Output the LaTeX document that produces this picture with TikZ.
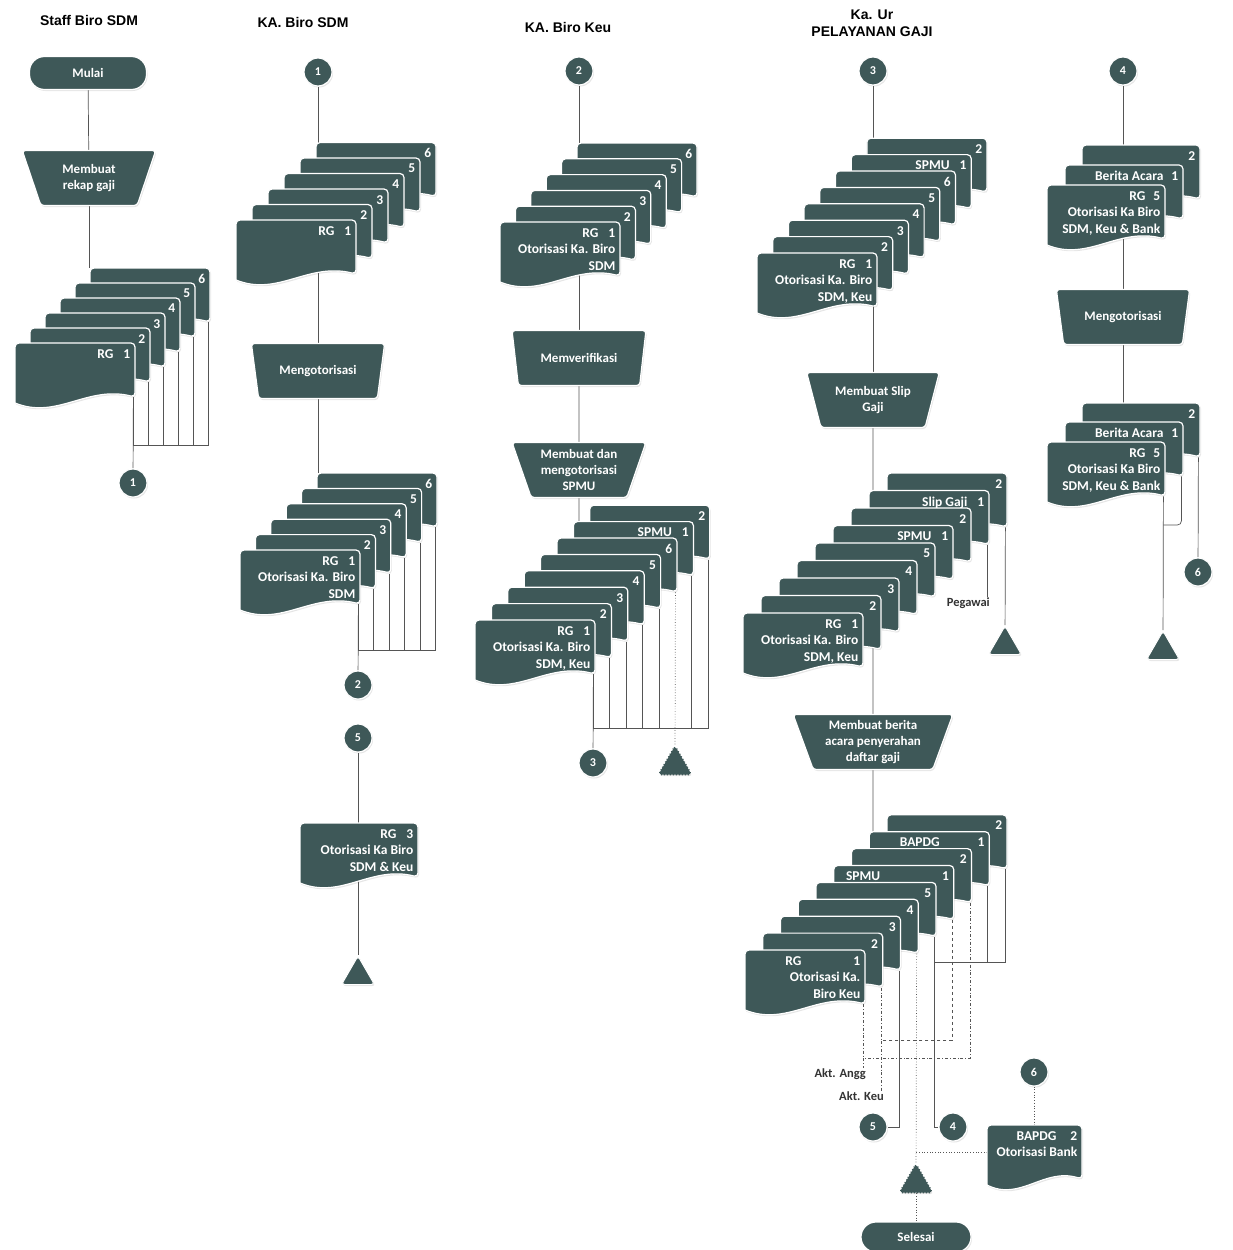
\documentclass[tikz,border=0pt]{standalone}
\usepackage{fontspec}
\setmainfont{Carlito}
\newfontfamily\headfont{Liberation Sans}
\usepackage{tikz}
\usetikzlibrary{shapes.geometric, shadows, backgrounds}
\definecolor{docfill}{RGB}{62,88,88}
\definecolor{flowline}{RGB}{85,85,85}
\tikzset{every node/.append style={font=\bfseries\fontsize{13}{16}\selectfont}}

% sheet with wavy bottom: [width]{name}{left}{top}{text}
\newcommand{\docpage}[5][120]{%
  \path[docshape] (#3,#4+60) [rounded corners=4pt] -- (#3,#4) -- (#3+#1,#4) -- (#3+#1,#4+54) [sharp corners]
    .. controls (#3+0.6*#1,#4+42) and (#3+0.35*#1,#4+77) .. cycle;
  \node[pagebox=#1] (#2) at (#3,#4) {};
  \node[pagetext] (#2t) at (#3+#1-3,#4+4.5) {#5};
}

\begin{document}
\begin{tikzpicture}[x=1pt, y=-1pt,
    shade/.style={drop shadow={opacity=0.2, shadow xshift=1pt, shadow yshift=-1.5pt}},
    docshape/.style={fill=docfill, draw=white, line width=1.2pt, shade},
    pagebox/.style={inner sep=0pt, anchor=north west, minimum width=#1pt-2pt, minimum height=54pt},
    pagetext/.style={anchor=north east, align=right, inner sep=1.5pt, text=white, font=\bfseries\fontsize{13.5}{16.5}\selectfont},
    term/.style={rectangle, rounded corners=15pt, minimum width=117pt, minimum height=33pt, fill=docfill, draw=white, line width=1.2pt, text=white, shade},
    manual/.style={trapezium, shape border rotate=180, trapezium angle=70, trapezium stretches=true, minimum width=134pt, minimum height=55pt, rounded corners=3pt, fill=docfill, draw=white, line width=1.2pt, text=white, align=center, inner sep=1pt, shade},
    circ/.style={circle, minimum size=28pt, inner sep=0pt, fill=docfill, draw=white, line width=1.2pt, text=white, font=\bfseries\fontsize{12}{14}\selectfont, shade},
    store/.style={regular polygon, regular polygon sides=3, minimum size=38pt, inner sep=0pt, rounded corners=3pt, fill=docfill, draw=white, line width=1pt, shade},
    storedot/.style={store, draw=docfill, dotted, line width=1.6pt},
    head/.style={font=\headfont\bfseries\fontsize{14}{17}\selectfont, align=center},
    outlabel/.style={inner sep=1pt, text=black!80, font=\bfseries\fontsize{12.5}{14}\selectfont},
    flow/.style={draw=flowline, line width=0.7pt}]
\useasboundingbox (0,0) rectangle (1232,1250);

% column heads
\node[head] (h1) at (89,20) {Staff Biro SDM};
\node[head] (h2) at (303,22) {KA. Biro SDM};
\node[head] (h3) at (568,27) {KA. Biro Keu};
\node[head] (h4) at (872,23) {Ka. Ur\\PELAYANAN GAJI};

% Staff Biro SDM
\node[term] (mulai) at (88,73) {Mulai};
\node[manual] (rekap) at (89,178) {Membuat\\rekap gaji};
\foreach \i/\lab in {5/6,4/5,3/4,2/3,1/2}
    \docpage{a\i}{15+15*\i}{343-15*\i}{\lab};
\docpage{a0}{15}{343}{RG\hspace{10pt}1}
\node[circ] (c1a) at (133,483) {1};

% KA. Biro SDM
\node[circ] (c1b) at (318,72) {1};
\foreach \i/\lab in {5/6,4/5,3/4,2/3,1/2}
    \docpage{b\i}{236+16*\i}{220-15.5*\i}{\lab};
\docpage{b0}{236}{220}{RG\hspace{10pt}1}
\node[manual] (otor1) at (318,371) {Mengotorisasi};
\foreach \i/\lab in {5/6,4/5,3/4,2/3,1/2}
    \docpage{d\i}{240+15.4*\i}{550-15.4*\i}{\lab};
\docpage{d0}{240}{550}{RG\hspace{10pt}1\\Otorisasi Ka. Biro\\SDM}
\node[circ] (c2a) at (358,685) {2};
\node[circ] (c5a) at (358,738) {5};
\docpage[118]{e0}{300}{823}{RG\hspace{10pt}3\\Otorisasi Ka Biro\\SDM \& Keu}
\node[store] (tri2) at (358,975) {};

% KA. Biro Keu
\node[circ] (c2b) at (579,71) {2};
\foreach \i/\lab in {5/6,4/5,3/4,2/3,1/2}
    \docpage{g\i}{500+15.4*\i}{222-15.8*\i}{\lab};
\docpage{g0}{500}{222}{RG\hspace{10pt}1\\Otorisasi Ka. Biro\\SDM}
\node[manual] (verif) at (579,358) {Memverifikasi};
\node[manual] (spmu) at (579,470) {Membuat dan\\mengotorisasi\\SPMU};
\foreach \i/\lab in {7/2,6/{SPMU\hspace{10pt}1},5/6,4/5,3/4,2/3,1/2}
    \docpage{h\i}{475+16.4*\i}{620-16.4*\i}{\lab};
\docpage{h0}{475}{620}{RG\hspace{10pt}1\\Otorisasi Ka. Biro\\SDM, Keu}
\node[circ] (c3a) at (593,763) {3};
\node[storedot] (tri3) at (675,765) {};

% Ka. Ur Pelayanan Gaji
\node[circ] (c3b) at (873,71) {3};
\foreach \i/\lab in {7/2,6/{SPMU\hspace{10pt}1},5/6,4/5,3/4,2/3,1/2}
    \docpage{k\i}{757+15.7*\i}{253-16.4*\i}{\lab};
\docpage{k0}{757}{253}{RG\hspace{10pt}1\\Otorisasi Ka. Biro\\SDM, Keu}
\node[manual] (slip) at (873,400) {Membuat Slip\\Gaji};
\foreach \i/\lab in {8/2,7/{Slip Gaji\hspace{10pt}1},6/2,5/{SPMU\hspace{10pt}1},4/5,3/4,2/3,1/2}
    \docpage{m\i}{743+18*\i}{613-17.5*\i}{\lab};
\docpage{m0}{743}{613}{RG\hspace{10pt}1\\Otorisasi Ka. Biro\\SDM, Keu}
\node[outlabel, anchor=north east] (pegawai) at (991,597) {Pegawai};
\node[store] (tri4) at (1005,645) {};
\node[manual, minimum width=160pt] (berita) at (873,742) {Membuat berita\\acara penyerahan\\daftar gaji};
\foreach \i/\lab in {8/2,7/{BAPDG\hspace{38pt}1},6/2,5/{SPMU\hspace{62pt}1},4/5,3/4,2/3,1/2}
    \docpage{n\i}{745+17.75*\i}{950-16.9*\i}{\lab};
\docpage{n0}{745}{950}{RG\hspace{52pt}1\\Otorisasi Ka.\\Biro Keu}
\node[outlabel, anchor=north east] (angg) at (867,1068) {Akt. Angg};
\node[outlabel, anchor=north east] (keu) at (885,1091) {Akt. Keu};
\node[circ] (c5b) at (873,1127) {5};
\node[circ] (c4b) at (953,1127) {4};
\node[circ] (c6b) at (1034,1072) {6};
\docpage[95]{r0}{987}{1125}{BAPDG\hspace{14pt}2\\Otorisasi Bank}
\node[storedot] (tri5) at (916,1183) {};
\node[term, minimum width=110pt, minimum height=30pt] (selesai) at (916,1237) {Selesai};

% right column
\node[circ] (c4a) at (1123,71) {4};
\docpage[118]{p2}{1082}{145}{2}
\docpage[118]{p1}{1065}{165}{Berita Acara\hspace{8pt}1}
\docpage[118]{p0}{1047}{185}{RG\hspace{8pt}5\\Otorisasi Ka Biro\\SDM, Keu \& Bank}
\node[manual] (otor2) at (1123,317) {Mengotorisasi};
\docpage[118]{q2}{1082}{403}{2}
\docpage[118]{q1}{1065}{422}{Berita Acara\hspace{8pt}1}
\docpage[118]{q0}{1047}{442}{RG\hspace{8pt}5\\Otorisasi Ka Biro\\SDM, Keu \& Bank}
\node[store] (tri6) at (1163,650) {};
\node[circ] (c6a) at (1198,572) {6};

\begin{pgfonlayer}{background}
    \fill[white] (0,0) rectangle (1232,1250);
    % flow lines
    \draw[flow] (mulai) -- (rekap);
    \draw[flow] (rekap) -- (rekap |- a5.north);
    \foreach \i in {0,...,5} \draw[flow] (a\i.south east) |- (a0.south east |- 0,445);
    \draw[flow] (a0.south east) -- (c1a);
    \draw[flow] (c1b) -- (otor1);
    \draw[flow] (otor1) -- (otor1 |- d5.north);
    \foreach \i in {0,...,5} \draw[flow] (d\i.south east) |- (d0.south east |- 0,650);
    \draw[flow] (d0.south east) -- (c2a);
    \draw[flow] (c5a) -- (tri2);
    \draw[flow] (c2b) -- (verif);
    \draw[flow] (verif) -- (spmu);
    \draw[flow] (spmu) -- (spmu |- h6.north);
    \foreach \i in {0,1,2,3,4,6,7} \draw[flow] (h\i.south east) |- (h0.south east |- 0,728);
    \draw[flow] (h0.south east) -- (c3a);
    \draw[flow, dotted] (h5.south east) -- (tri3);
    \draw[flow] (c3b) -- (slip);
    \draw[flow] (slip) -- (berita);
    \draw[flow] (m7.south east) -- (m7.south east |- pegawai.north);
    \draw[flow] (m8.south east) -- (tri4);
    \draw[flow] (berita) -- (berita |- n7.north);
    \draw[flow, dash dot] (n0.south east) -- (n0.south east |- angg.north);
    \draw[flow, dash dot] (n1.south east) -- (n1.south east |- keu.north);
    \draw[flow] (n2.south east) |- (c5b);
    \draw[flow, dotted] (n3.south east) -- (tri5);
    \draw[flow] (n4.south east) |- (c4b);
    \draw[flow, dashed] (n5.south east) |- (n1.south east |- 0,1040);
    \draw[flow, dash dot] (n6.south east) |- (n0.south east |- 0,1058);
    \draw[flow] (n7.south east) |- (n4.south east |- 0,962);
    \draw[flow] (n8.south east) |- (n4.south east |- 0,962);
    \draw[flow, dotted] (c6b) -- (c6b |- r0.north);
    \draw[flow, dotted] (r0.west) -- (r0.west -| tri5);
    \draw[flow, dotted] (tri5) -- (selesai);
    \draw[flow] (c4a) -- (otor2);
    \draw[flow] (otor2) -- (otor2 |- q2.north);
    \draw[flow] (q0.south east) -- (tri6);
    \draw[flow, rounded corners=4pt] (q1.south east) |- (q0.south east |- 0,525);
    \draw[flow] (q2.south east) -- (c6a);
\end{pgfonlayer}
\end{tikzpicture}
\end{document}
